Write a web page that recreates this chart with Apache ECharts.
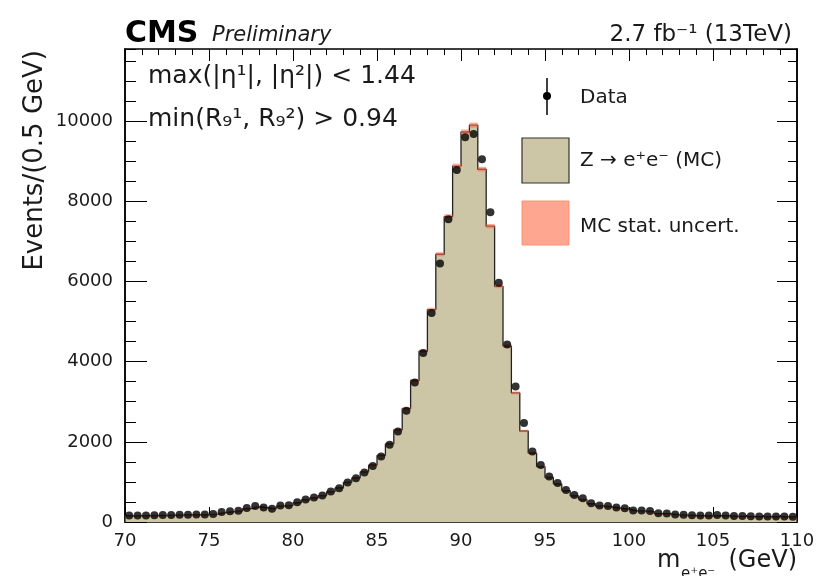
<!DOCTYPE html>
<html>
<head>
<meta charset="utf-8">
<script src="https://cdn.jsdelivr.net/npm/echarts/dist/echarts.min.js"></script>
<style>
html,body{margin:0;padding:0;background:#fff;}
#c{width:819px;height:576px;}
</style>
</head>
<body>
<div id="c"></div>
<script>
// ---- data ----
const binEdges = [70,70.5,71,71.5,72,72.5,73,73.5,74,74.5,75,75.5,76,76.5,77,77.5,78,78.5,79,79.5,
  80,80.5,81,81.5,82,82.5,83,83.5,84,84.5,85,85.5,86,86.5,87,87.5,88,88.5,89,89.5,
  90,90.5,91,91.5,92,92.5,93,93.5,94,94.5,95,95.5,96,96.5,97,97.5,98,98.5,99,99.5,
  100,100.5,101,101.5,102,102.5,103,103.5,104,104.5,105,105.5,106,106.5,107,107.5,108,108.5,109,109.5,110];

const dataCounts = [160,165,165,170,175,175,180,180,185,190,
  200,250,270,280,350,400,360,330,410,420,
  490,560,610,660,760,845,985,1090,1235,1400,
  1635,1925,2260,2775,3480,4215,5215,6450,7550,8780,
  9600,9680,9050,7730,5970,4430,3380,2470,1760,1420,
  1135,975,800,675,590,470,410,400,360,340,
  290,285,275,220,215,190,180,170,165,160,
  175,160,150,150,145,140,140,135,135,130];

const mcCounts = [150,155,158,162,165,168,172,175,178,185,
  195,235,260,275,335,380,355,330,395,415,
  480,550,600,660,760,850,990,1100,1250,1420,
  1660,1950,2300,2830,3530,4260,5300,6680,7620,8880,
  9730,9900,8800,7380,5880,4390,3220,2270,1720,1380,
  1110,950,780,650,560,455,395,380,345,320,
  280,270,260,210,205,180,170,162,155,150,
  160,150,142,140,136,132,130,128,126,122];

const mcStatErr = [8,8,8,8,8,8,8,8,8,8,
  9,10,10,10,11,12,11,11,12,12,
  13,14,15,16,17,18,19,21,22,23,
  25,28,30,33,37,41,46,51,55,59,
  62,63,59,54,48,42,36,30,26,23,
  21,19,17,16,14,13,12,12,11,11,
  10,10,10,9,9,8,8,8,8,8,
  8,8,7,7,7,7,7,7,7,7];

const xTicks = [70,75,80,85,90,95,100,105,110];
const yTicks = [0,2000,4000,6000,8000,10000];
const yMax = 11800;

// ---- build series data ----
const histLine = [[binEdges[0], 0]];
for (let i = 0; i < mcCounts.length; i++) histLine.push([binEdges[i], mcCounts[i]]);
histLine.push([binEdges[binEdges.length - 1], mcCounts[mcCounts.length - 1]]);
histLine.push([binEdges[binEdges.length - 1], 0]);

const bandData = mcCounts.map((v, i) => [binEdges[i], binEdges[i + 1], v, mcStatErr[i]]);
const pointData = dataCounts.map((v, i) => [(binEdges[i] + binEdges[i + 1]) / 2, v]);

const FONT = '"DejaVu Sans"';
const TXT = '#1a1a1a';
const MCFILL = '#cdc6a6';
const BAND = 'rgba(255,110,80,0.6)';

const xMin = xTicks[0], xMax = xTicks[xTicks.length - 1], xInt = xTicks[1] - xTicks[0];
const yMin = yTicks[0], yInt = yTicks[1] - yTicks[0];

function xAxisDef(pos, showLabel, major, minor) {
  return {
    type: 'value', position: pos, min: xMin, max: xMax, interval: xInt,
    axisLine: {show: true, onZero: false, lineStyle: {color: '#000', width: 1.5}},
    axisTick: {show: true, inside: true, length: major, lineStyle: {color: '#000', width: 1}},
    minorTick: {show: true, splitNumber: 5, length: minor, lineStyle: {color: '#000', width: 1}},
    axisLabel: {show: showLabel, margin: 10, fontFamily: 'DejaVu Sans', fontSize: 18, color: TXT,
      showMinLabel: true, showMaxLabel: true, formatter: v => String(v)},
    splitLine: {show: false}, minorSplitLine: {show: false}
  };
}
function yAxisDef(pos, showLabel, interval, len) {
  return {
    type: 'value', position: pos, min: yMin, max: yMax, interval: interval,
    axisLine: {show: true, onZero: false, lineStyle: {color: '#000', width: 1.5}},
    axisTick: {show: true, inside: true, length: len, lineStyle: {color: '#000', width: 1}},
    axisLabel: {show: showLabel, margin: 12, fontFamily: 'DejaVu Sans', fontSize: 18, color: TXT,
      showMinLabel: true, showMaxLabel: false, formatter: v => String(v)},
    splitLine: {show: false}
  };
}

const chart = echarts.init(document.getElementById('c'));
chart.setOption({
  animation: false,
  backgroundColor: '#fff',
  grid: {left: 125, right: 22, top: 49, bottom: 54, containLabel: false},
  xAxis: [xAxisDef('bottom', true, 15, 7), xAxisDef('top', false, 12, 6)],
  yAxis: [
    yAxisDef('left', true, yInt, 22),
    yAxisDef('left', false, yInt / 4, 11),
    yAxisDef('right', false, yInt, 20),
    yAxisDef('right', false, yInt / 4, 9)
  ],
  series: [
    {
      name: 'Z → e⁺e⁻ (MC)', type: 'line', step: 'end', data: histLine,
      xAxisIndex: 0, yAxisIndex: 0, symbol: 'none',
      lineStyle: {color: '#222', width: 1.3},
      areaStyle: {color: MCFILL, opacity: 1}, z: 2
    },
    {
      name: 'MC stat. uncert.', type: 'custom', data: bandData,
      xAxisIndex: 0, yAxisIndex: 0, encode: {x: [0, 1], y: 2}, z: 3,
      renderItem: function (params, api) {
        const lo = api.value(0), hi = api.value(1), c = api.value(2), e = api.value(3);
        const p1 = api.coord([lo, c + e]);
        const p2 = api.coord([hi, c - e]);
        return {type: 'rect', shape: {x: p1[0], y: p1[1], width: p2[0] - p1[0], height: Math.max(p2[1] - p1[1], 1.5)},
          style: {fill: BAND}};
      }
    },
    {
      name: 'Data', type: 'scatter', data: pointData, xAxisIndex: 0, yAxisIndex: 0,
      symbol: 'circle', symbolSize: 8, itemStyle: {color: '#000'}, z: 5
    }
  ],
  graphic: [
    {type: 'text', x: 125, y: 34, style: {text: 'CMS', font: 'bold 30px ' + FONT, fill: '#000', textAlign: 'left', textVerticalAlign: 'middle'}},
    {type: 'text', x: 212, y: 36, style: {text: 'Preliminary', font: 'italic 21px ' + FONT, fill: TXT, textAlign: 'left', textVerticalAlign: 'middle'}},
    {type: 'text', x: 792, y: 35, style: {text: '2.7 fb⁻¹ (13TeV)', font: '23px ' + FONT, fill: TXT, textAlign: 'right', textVerticalAlign: 'middle'}},
    {type: 'text', x: 148, y: 76, style: {text: 'max(|η¹|, |η²|) < 1.44', font: '25px ' + FONT, fill: TXT, textAlign: 'left', textVerticalAlign: 'middle'}},
    {type: 'text', x: 148, y: 119, style: {text: 'min(R₉¹, R₉²) > 0.94', font: '25px ' + FONT, fill: TXT, textAlign: 'left', textVerticalAlign: 'middle'}},
    // legend
    {type: 'line', shape: {x1: 547, y1: 78, x2: 547, y2: 115}, style: {stroke: '#000', lineWidth: 1.5}},
    {type: 'circle', shape: {cx: 547, cy: 96, r: 4}, style: {fill: '#000'}},
    {type: 'text', x: 580, y: 98, style: {text: 'Data', font: '20px ' + FONT, fill: TXT, textAlign: 'left', textVerticalAlign: 'middle'}},
    {type: 'rect', shape: {x: 522, y: 138, width: 47, height: 45}, style: {fill: MCFILL, stroke: '#333', lineWidth: 1.2}},
    {type: 'text', x: 580, y: 161, style: {text: 'Z → e⁺e⁻ (MC)', font: '20px ' + FONT, fill: TXT, textAlign: 'left', textVerticalAlign: 'middle'}},
    {type: 'rect', shape: {x: 522, y: 201, width: 47, height: 44}, style: {fill: 'rgba(255,150,125,0.85)', stroke: 'rgba(255,140,110,0.9)', lineWidth: 1}},
    {type: 'text', x: 580, y: 227, style: {text: 'MC stat. uncert.', font: '20px ' + FONT, fill: TXT, textAlign: 'left', textVerticalAlign: 'middle'}},
    // axis titles
    {type: 'text', x: 35, y: 50, rotation: Math.PI / 2, style: {text: 'Events/(0.5 GeV)', font: '26px ' + FONT, fill: TXT, textAlign: 'right', textVerticalAlign: 'middle'}},
    {type: 'text', x: 657, y: 561, style: {text: 'm', font: '24px ' + FONT, fill: TXT, textAlign: 'left', textVerticalAlign: 'middle'}},
    {type: 'text', x: 681, y: 574, style: {text: 'e⁺e⁻', font: '15px ' + FONT, fill: TXT, textAlign: 'left', textVerticalAlign: 'middle'}},
    {type: 'text', x: 797, y: 561, style: {text: '(GeV)', font: '24px ' + FONT, fill: TXT, textAlign: 'right', textVerticalAlign: 'middle'}}
  ]
});
</script>
</body>
</html>
